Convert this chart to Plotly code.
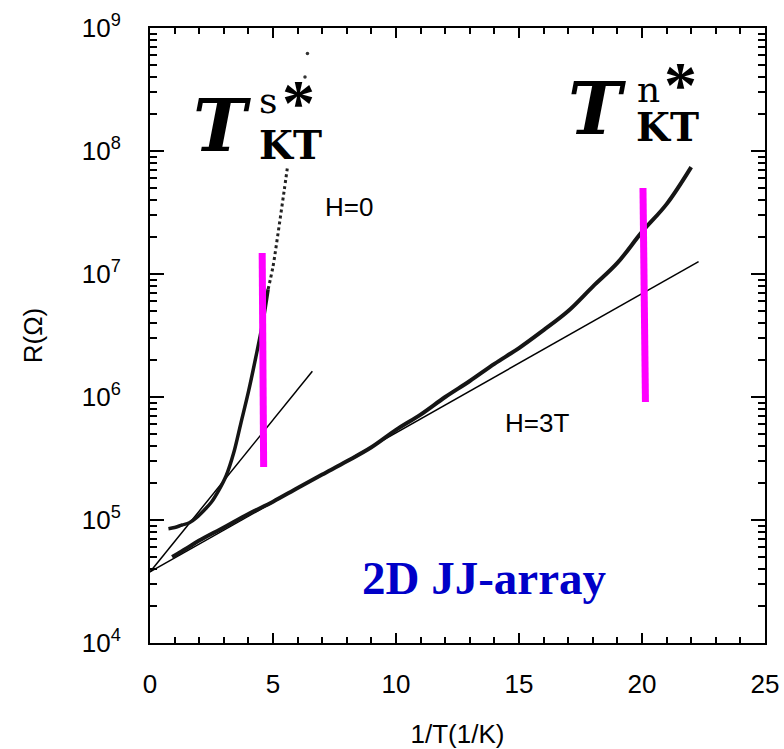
import plotly.graph_objects as go

# --- measured resistance vs inverse temperature ---
h0_x = [0.75, 1.0, 1.3, 1.6, 1.9, 2.2, 2.5, 2.8, 3.1, 3.4, 3.7, 4.0, 4.3, 4.6, 4.8]
h0_R = [8.5e4, 8.7e4, 9.1e4, 9.5e4, 1.05e5, 1.2e5, 1.4e5, 1.75e5, 2.3e5, 3.5e5,
        6.2e5, 1.1e6, 2.1e6, 4.2e6, 7.5e6]
# sparse high-resistance tail of the H=0 run
h0_tail_x = [4.8, 5.0, 5.15, 5.3, 5.45, 5.58]
h0_tail_R = [7.5e6, 1.15e7, 1.8e7, 2.9e7, 4.7e7, 7.2e7]
h0_dots_x = [6.3, 6.4]
h0_dots_R = [4.0e8, 6.2e8]

h3_x = [0.9, 1.5, 2.0, 3.0, 4.0, 5.0, 6.0, 7.0, 8.0, 9.0, 10.0, 11.0, 12.0,
        13.0, 14.0, 15.0, 16.0, 17.0, 18.0, 19.0, 20.0, 21.0, 22.0]
h3_R = [5.0e4, 5.9e4, 6.8e4, 8.7e4, 1.12e5, 1.41e5, 1.82e5, 2.34e5, 3.0e5, 3.9e5,
        5.4e5, 7.2e5, 1.0e6, 1.35e6, 1.86e6, 2.5e6, 3.5e6, 5.0e6, 7.9e6, 1.23e7,
        2.2e7, 3.7e7, 7.4e7]

# --- activated (Arrhenius) fits ---
fit_h0_x = [0.0, 6.6]
fit_h0_R = [3.78e4, 1.62e6]
fit_h3_x = [0.0, 22.3]
fit_h3_R = [3.78e4, 1.26e7]

# --- crossover markers ---
mark_s_x = [4.56, 4.62]
mark_s_R = [1.48e7, 2.7e5]
mark_n_x = [20.04, 20.14]
mark_n_R = [5.0e7, 9.1e5]

x_ticks = [0, 5, 10, 15, 20, 25]
y_ticks = [1e4, 1e5, 1e6, 1e7, 1e8, 1e9]
y_ticktext = ["10<sup>4</sup>", "10<sup>5</sup>", "10<sup>6</sup>",
              "10<sup>7</sup>", "10<sup>8</sup>", "10<sup>9</sup>"]
y_minor = [k * 10 ** n for n in range(4, 9) for k in range(2, 10)]

SANS = "Liberation Sans, Arial, sans-serif"
SERIF = "DejaVu Serif, serif"
TIMES = "Liberation Serif, Times New Roman, serif"

fig = go.Figure()

line_kw = dict(mode="lines", showlegend=False, hoverinfo="skip")
fig.add_trace(go.Scatter(x=fit_h0_x, y=fit_h0_R, line=dict(color="black", width=1.5), **line_kw))
fig.add_trace(go.Scatter(x=fit_h3_x, y=fit_h3_R, line=dict(color="black", width=1.5), **line_kw))
fig.add_trace(go.Scatter(x=h0_x, y=h0_R, line=dict(color="#151515", width=3.5, shape="spline"), **line_kw))
fig.add_trace(go.Scatter(x=h0_tail_x, y=h0_tail_R,
                         line=dict(color="#222", width=3, dash="dot", shape="spline"), **line_kw))
fig.add_trace(go.Scatter(x=h0_dots_x, y=h0_dots_R, mode="markers", showlegend=False,
                         marker=dict(color="#333", size=3.5), hoverinfo="skip"))
fig.add_trace(go.Scatter(x=h3_x, y=h3_R, line=dict(color="#151515", width=4, shape="spline"), **line_kw))
fig.add_trace(go.Scatter(x=mark_s_x, y=mark_s_R, line=dict(color="#FF00FF", width=7), **line_kw))
fig.add_trace(go.Scatter(x=mark_n_x, y=mark_n_R, line=dict(color="#FF00FF", width=7), **line_kw))

# plot area in pixels: x 150..765, y 28..643
L, R, T, B = 150, 765, 28, 643


def pos(px, py):
    return (px - L) / (R - L), (B - py) / (B - T)


def label(text, px, py, family, size, color="black"):
    x, y = pos(px, py)
    fig.add_annotation(x=x, y=y, xref="paper", yref="paper", text=text, showarrow=False,
                       xanchor="center", yanchor="middle",
                       font=dict(family=family, size=size, color=color))


label("H=0", 349, 207, SANS, 26)
label("H=3T", 537, 423, SANS, 26)
label("<b>2D JJ-array</b>", 484, 578, TIMES, 47, "#0000C8")

# T_KT^{s*}
label("<b><i>T</i></b>", 222, 126, SERIF, 72)
label("s", 268, 101, SERIF, 36)
label("<b>*</b>", 298, 102, TIMES, 66)
label("<b>KT</b>", 290, 145, SERIF, 39)
# T_KT^{n*}
label("<b><i>T</i></b>", 597, 108, SERIF, 72)
label("n", 648, 89, SERIF, 36)
label("<b>*</b>", 680, 84, TIMES, 66)
label("<b>KT</b>", 667, 127, SERIF, 39)

fig.update_layout(
    width=784, height=749,
    margin=dict(l=L, r=784 - R, t=T, b=749 - B, autoexpand=False),
    paper_bgcolor="white", plot_bgcolor="white",
    font=dict(family=SANS, color="black"),
    xaxis=dict(
        range=[0, 25], tickvals=x_ticks, ticks="inside", ticklen=10, tickwidth=2,
        tickcolor="black", showline=True, linecolor="black", linewidth=2, mirror="ticks",
        showgrid=False, zeroline=False, tickfont=dict(size=26), ticklabelstandoff=17,
        automargin=False,
        minor=dict(dtick=1, ticks="inside", ticklen=6, tickwidth=1.5, tickcolor="black",
                   showgrid=False),
        title=dict(text="1/T(1/K)", font=dict(size=26), standoff=27),
    ),
    yaxis=dict(
        type="log", range=[4, 9], tickvals=y_ticks, ticktext=y_ticktext,
        ticks="inside", ticklen=14, tickwidth=2, tickcolor="black",
        showline=True, linecolor="black", linewidth=2, mirror="ticks",
        showgrid=False, zeroline=False, tickfont=dict(size=26), ticklabelstandoff=22,
        automargin=False,
        minor=dict(tickvals=y_minor, ticks="inside", ticklen=7, tickwidth=1.5,
                   tickcolor="black", showgrid=False),
        title=dict(text="R(Ω)", font=dict(size=26), standoff=32),
    ),
)

fig.write_html("out.html")
